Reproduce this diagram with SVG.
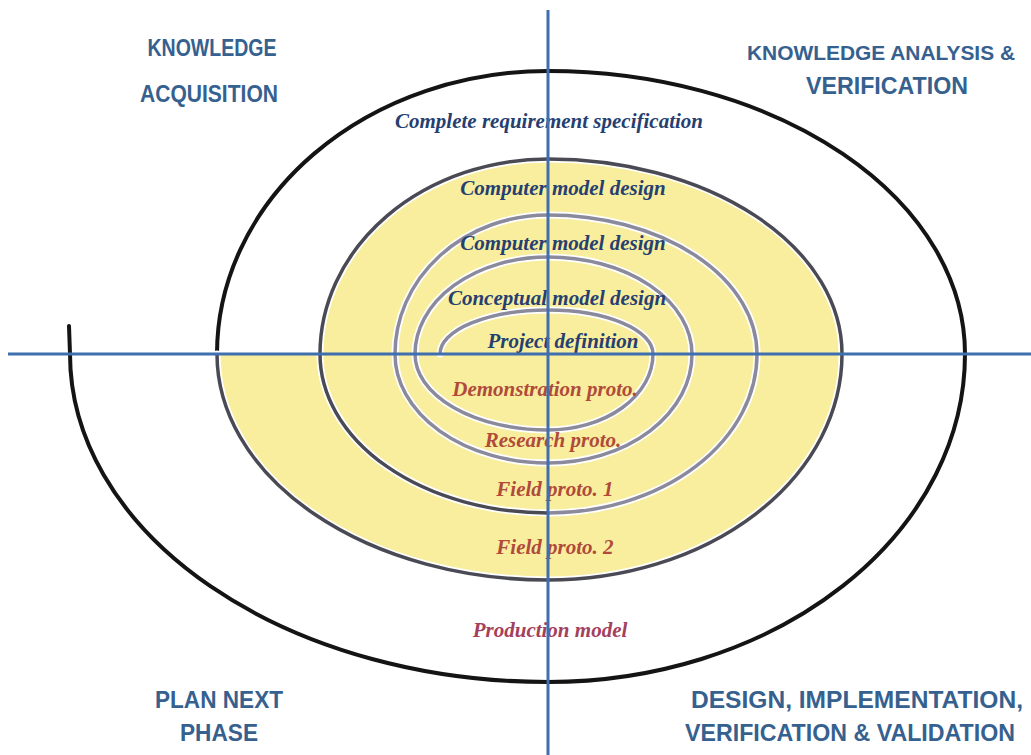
<svg xmlns="http://www.w3.org/2000/svg" width="1031" height="755" viewBox="0 0 1031 755">
<style>
.quad{font-family:"Liberation Sans",Arial,sans-serif;font-weight:bold;font-size:23px;fill:#36618f;text-anchor:middle}
.quad.small{font-size:21px}
.scr{font-family:"Liberation Serif","DejaVu Serif",serif;font-style:italic;font-weight:bold;font-size:21px;text-anchor:middle}
.blue{fill:#263f70}
.red{fill:#b04a3a}
.pink{fill:#a3405c}
.halo{fill:none;stroke:#ffffff;stroke-width:7;stroke-linecap:round}
.blk{fill:none;stroke:#141414;stroke-width:4;stroke-linecap:round}
.dk{fill:none;stroke:#4a4a55;stroke-width:3.5}
.gr{fill:none;stroke:#8a8a9c;stroke-width:3.5}
.axis{stroke:#3f6fae;stroke-width:3}
</style>
<rect width="1031" height="755" fill="#ffffff"/>
<g id="yellow-band">
<path d="M 217 354 A 331 226 0 0 0 548 580 A 294 226 0 0 0 842 354 A 294 195 0 0 0 548 159 A 228 195 0 0 0 320 354 Z" fill="#f8ee9e"/>
</g>
<g id="spiral">
<path class="blk" d="M 69 326 L 70 354 A 478 328 0 0 0 548 682 A 417 328 0 0 0 965 354 A 417 283 0 0 0 548 71 A 331 283 0 0 0 217 354"/>
<path class="halo" d="M 217 354 A 331 226 0 0 0 548 580 A 294 226 0 0 0 842 354 A 294 195 0 0 0 548 159 A 228 195 0 0 0 320 354 A 228 159 0 0 0 548 513 A 209 159 0 0 0 757 354 A 209 139 0 0 0 548 215 A 153 139 0 0 0 395 354 A 153 109 0 0 0 548 463 A 144 109 0 0 0 692 354 A 144 97 0 0 0 548 257 A 133 97 0 0 0 415 354 A 133 76 0 0 0 548 430 A 105 76 0 0 0 653 354 A 105 44 0 0 0 548 310 A 108 44 0 0 0 440 354"/>
<path class="dk" d="M 217 354 A 331 226 0 0 0 548 580 A 294 226 0 0 0 842 354 A 294 195 0 0 0 548 159 A 228 195 0 0 0 320 354 A 228 159 0 0 0 548 513"/>
<path class="gr" d="M 548 513 A 209 159 0 0 0 757 354 A 209 139 0 0 0 548 215 A 153 139 0 0 0 395 354 A 153 109 0 0 0 548 463 A 144 109 0 0 0 692 354 A 144 97 0 0 0 548 257 A 133 97 0 0 0 415 354 A 133 76 0 0 0 548 430 A 105 76 0 0 0 653 354 A 105 44 0 0 0 548 310 A 108 44 0 0 0 440 354"/>
</g>
<g id="phase-labels">
<text class="scr blue" x="549" y="128">Complete requirement specification</text>
<text class="scr blue" x="563" y="195">Computer model design</text>
<text class="scr blue" x="563" y="250">Computer model design</text>
<text class="scr blue" x="557" y="305">Conceptual model design</text>
<text class="scr blue" x="563" y="348">Project definition</text>
<text class="scr red" x="545" y="396">Demonstration proto.</text>
<text class="scr red" x="553" y="447">Research proto.</text>
<text class="scr red" x="555" y="496">Field proto. 1</text>
<text class="scr red" x="555" y="554">Field proto. 2</text>
<text class="scr pink" x="550" y="637">Production model</text>
</g>
<g id="axes">
<line class="axis" x1="548" y1="10" x2="548" y2="755"/>
<line class="axis" x1="8" y1="354" x2="1031" y2="354"/>
</g>
<g id="quadrant-knowledge-acquisition">
<text class="quad" x="212" y="56" textLength="129" lengthAdjust="spacingAndGlyphs">KNOWLEDGE</text>
<text class="quad" x="209" y="102" textLength="138" lengthAdjust="spacingAndGlyphs">ACQUISITION</text>
</g>
<g id="quadrant-knowledge-analysis">
<text class="quad small" x="881" y="60" textLength="268" lengthAdjust="spacingAndGlyphs">KNOWLEDGE ANALYSIS &amp;</text>
<text class="quad" x="887" y="94" textLength="162" lengthAdjust="spacingAndGlyphs">VERIFICATION</text>
</g>
<g id="quadrant-plan-next-phase">
<text class="quad" x="219" y="708" textLength="128" lengthAdjust="spacingAndGlyphs">PLAN NEXT</text>
<text class="quad" x="219" y="741" textLength="78" lengthAdjust="spacingAndGlyphs">PHASE</text>
</g>
<g id="quadrant-design">
<text class="quad" x="857" y="708" textLength="332" lengthAdjust="spacingAndGlyphs">DESIGN, IMPLEMENTATION,</text>
<text class="quad" x="850" y="741" textLength="330" lengthAdjust="spacingAndGlyphs">VERIFICATION &amp; VALIDATION</text>
</g>
</svg>
